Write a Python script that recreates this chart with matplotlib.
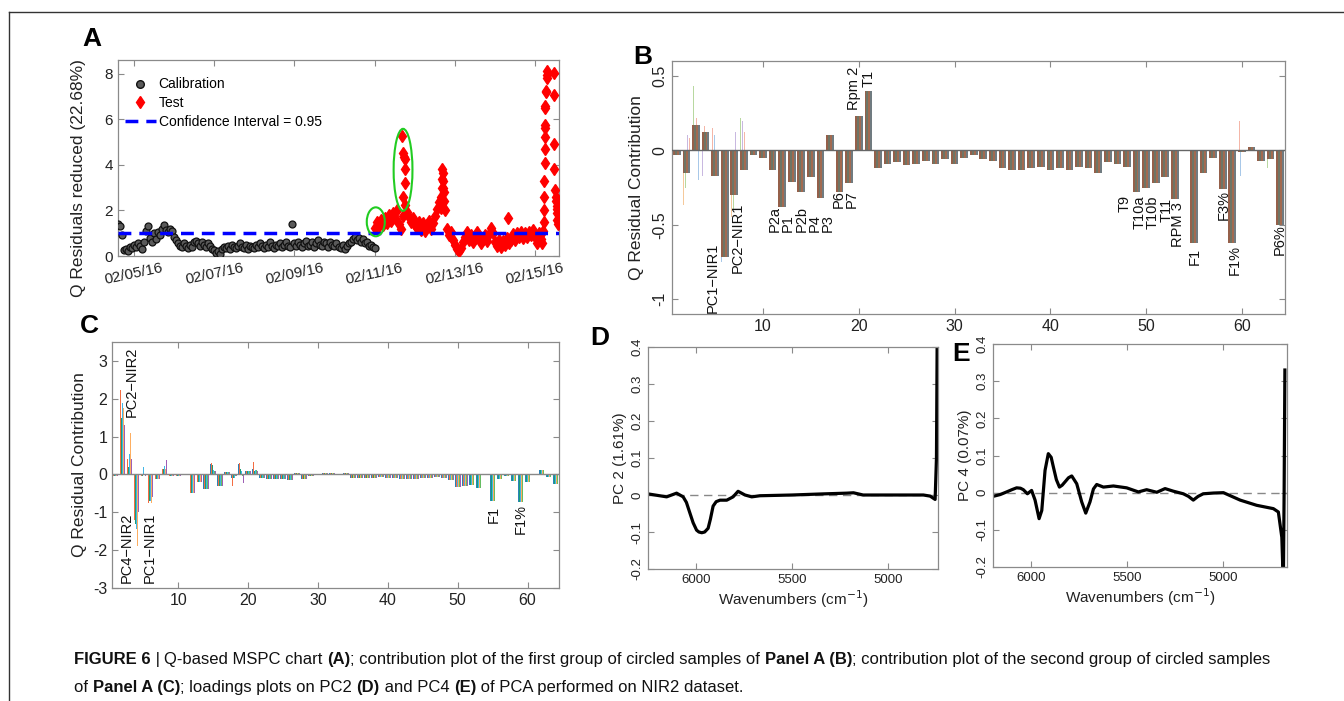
import numpy as np
import matplotlib.pyplot as plt
from matplotlib.patches import Ellipse
from matplotlib.lines import Line2D
from matplotlib.text import Annotation

plt.rcParams['font.family'] = ['Liberation Sans', 'DejaVu Sans']
plt.rcParams['axes.unicode_minus'] = False

# ---------------- Panel A: Q residuals over time (days of Feb 2016)
calib_vals = [
    1.40, 1.30, 0.90, 0.25, 0.30, 0.20, 0.40, 0.35, 0.50, 0.40,
    0.55, 0.45, 0.30, 0.60, 1.10, 1.30, 0.80, 0.60, 1.00, 0.75,
    1.05, 0.90, 1.20, 1.35, 1.15, 1.05, 1.20, 1.10, 0.85, 0.70,
    0.55, 0.45, 0.40, 0.55, 0.45, 0.35, 0.50, 0.40, 0.60, 0.65,
    0.55, 0.45, 0.60, 0.50, 0.40, 0.55, 0.45, 0.30, 0.25, 0.15,
    0.20, 0.10, 0.30, 0.40, 0.35, 0.45, 0.30, 0.50, 0.40, 0.35,
    0.45, 0.55, 0.40, 0.35, 0.50, 0.30, 0.45, 0.40, 0.35, 0.50,
    0.40, 0.55, 0.45, 0.35, 0.50, 0.40, 0.60, 0.45, 0.35, 0.50,
    0.45, 0.55, 0.40, 0.50, 0.60, 0.45, 0.40, 1.40, 0.55, 0.45,
    0.60, 0.50, 0.40, 0.55, 0.65, 0.45, 0.50, 0.60, 0.40, 0.55,
    0.70, 0.50, 0.45, 0.60, 0.55, 0.40, 0.60, 0.50, 0.45, 0.55,
    0.40, 0.35, 0.50, 0.30, 0.45, 0.55, 0.60, 0.75, 0.85, 0.70,
    0.80, 0.60, 0.75, 0.55, 0.60, 0.45, 0.50, 0.40, 0.35]
calib_start, calib_step = 4.60, 0.05   # samples every ~1.2 h
calib_days = calib_start + calib_step * np.arange(len(calib_vals))

test_vals = [
    1.25, 1.50, 1.30, 1.60, 1.35, 1.65, 1.45, 1.80, 1.55, 1.90,
    1.65, 2.00, 1.40, 1.20, 1.75, 2.25, 1.95, 1.70, 1.50, 1.65,
    1.35, 1.25, 1.50, 1.15, 1.45, 1.10, 1.35, 1.55, 1.20, 1.45,
    1.75, 2.05, 2.35, 2.10, 3.00, 2.00, 1.20, 0.90, 1.05, 0.70,
    0.50, 0.30, 0.20, 0.35, 0.60, 0.85, 1.05, 0.70, 0.90, 0.60,
    0.80, 1.05, 0.80, 0.55, 0.75, 0.90, 0.65, 0.95, 1.25, 1.00,
    0.60, 0.45, 0.70, 0.40, 0.65, 0.50, 0.80, 0.55, 0.70, 0.95,
    0.70, 1.00, 0.85, 1.05, 0.80, 1.00, 0.85, 1.05, 0.90, 1.15,
    0.85, 0.55, 1.00, 0.75]
test_start, test_step = 11.00, 0.05
test_days = test_start + test_step * np.arange(len(test_vals))

# excursions of the test samples
spike_days = [11.69, 11.71, 11.74, 11.76, 11.76, 11.75, 11.70,
              12.66, 12.67, 12.68, 12.69, 12.70, 12.71, 12.72, 12.73,
              14.34,
              15.18, 15.20, 15.22, 15.22, 15.23, 15.23, 15.24, 15.24, 15.25,
              15.25, 15.25, 15.26, 15.26, 15.28, 15.28, 15.29, 15.29, 15.30,
              15.48, 15.48, 15.47, 15.48, 15.50, 15.52, 15.53, 15.54, 15.55,
              15.56, 15.57, 15.56]
spike_vals = [5.25, 4.50, 4.35, 4.25, 3.80, 3.20, 2.60,
              2.60, 3.00, 3.40, 3.80, 3.65, 3.30, 2.80, 2.40,
              1.67,
              0.55, 1.10, 1.50, 2.00, 2.60, 3.30, 4.10, 4.70, 5.20,
              5.60, 5.75, 6.50, 6.60, 7.20, 7.25, 7.80, 8.10, 7.95,
              8.05, 7.05, 4.90, 3.80, 2.90, 2.60, 2.40, 2.20, 1.90,
              1.60, 1.40, 2.05]
conf_limit = 1.0
date_ticks = [5, 7, 9, 11, 13, 15]
date_labels = ['02/05/16', '02/07/16', '02/09/16', '02/11/16', '02/13/16', '02/15/16']
# circled sample groups: (centre day, centre value, width, height)
circles = [(11.03, 1.50, 0.45, 1.27), (11.71, 3.78, 0.47, 3.60)]

# ---------------- Panel B: contributions, first circled group
b_main = [
    -0.03, -0.15, 0.17, 0.12, -0.17, -0.72, -0.30, -0.13, -0.03, -0.05,
    -0.13, -0.38, -0.21, -0.28, -0.18, -0.32, 0.10, -0.28, -0.22, 0.23,
    0.40, -0.12, -0.09, -0.08, -0.10, -0.09, -0.07, -0.09, -0.06, -0.09,
    -0.05, -0.03, -0.06, -0.07, -0.12, -0.13, -0.13, -0.12, -0.11, -0.13,
    -0.12, -0.13, -0.11, -0.12, -0.15, -0.08, -0.09, -0.11, -0.28, -0.25,
    -0.22, -0.18, -0.33, 0.00, -0.62, -0.15, -0.05, -0.26, -0.62, -0.01,
    0.02, -0.07, -0.06, -0.50]
b_extra = {2: [-0.37, -0.25, 0.10, 0.08], 3: [0.43, 0.30, 0.22, -0.20],
           4: [-0.17, 0.16], 5: [0.15, 0.10], 6: [-0.75],
           7: [-0.45, -0.40, 0.12], 8: [0.22, 0.20, 0.12],
           60: [0.20, -0.17], 63: [-0.12]}
# (label, x centre, y of text bottom)
b_labels = [('PC1\u2212NIR1', 4.8, -1.09), ('PC2\u2212NIR1', 7.36, -0.826),
            ('P2a', 11.2, -0.548), ('P1', 12.6, -0.548), ('P2b', 14.0, -0.548),
            ('P4', 15.4, -0.548), ('P3', 16.8, -0.548), ('P6', 17.9, -0.39),
            ('P7', 19.3, -0.39), ('Rpm 2', 19.5, 0.268), ('T1', 21.05, 0.425),
            ('T9', 47.75, -0.414), ('T10a', 49.3, -0.526), ('T10b', 50.7, -0.526),
            ('T11', 52.1, -0.48), ('RPM 3', 53.3, -0.649), ('F1', 55.1, -0.772),
            ('F3%', 58.06, -0.47), ('F1%', 59.3, -0.84), ('P6%', 64.0, -0.705)]

# ---------------- Panel C: contributions, second circled group
c_main = [
    -0.04, 1.60, 0.40, -1.30, -0.05, -0.70, -0.12, 0.20, -0.03, -0.03,
    -0.02, -0.48, -0.20, -0.38, 0.25, -0.30, 0.06, -0.10, 0.20, 0.10,
    0.15, -0.10, -0.12, -0.13, -0.12, -0.15, 0.05, -0.12, -0.03, -0.02,
    0.05, 0.03, 0.02, 0.04, -0.10, -0.10, -0.09, -0.10, -0.08, -0.09,
    -0.10, -0.12, -0.11, -0.12, -0.10, -0.09, -0.08, -0.10, -0.15, -0.32,
    -0.30, -0.28, -0.35, 0.00, -0.70, -0.12, -0.05, -0.18, -0.72, -0.20,
    0.00, 0.12, -0.08, -0.25]
c_samples = {2: [1.20, 2.22, 1.50, 1.90, 1.75, 1.30, 1.30],
             3: [0.42, 0.40, 0.20, 0.55, 1.10, 0.20, 0.40],
             4: [-1.00, -1.20, -1.30, -1.45, -1.88, -0.65, -1.00],
             5: [0.20, -0.05, -0.05, 0.20, -0.02, -0.48, -0.05],
             6: [-0.68, -0.75, -0.70, -0.70, -0.75, -0.60, -0.60],
             8: [0.22, 0.15, 0.15, 0.22, 0.15, 0.10, 0.38],
             15: [0.28, 0.30, 0.25, 0.12, 0.30, 0.10, 0.10],
             18: [-0.10, -0.30, -0.10, -0.10, -0.10, -0.05, -0.05],
             19: [0.28, 0.30, 0.15, 0.10, 0.28, -0.05, -0.22],
             21: [0.15, 0.32, 0.10, 0.12, 0.10, 0.12, 0.10]}
c_labels = [('PC2\u2212NIR2', 3.32, 1.52), ('PC4\u2212NIR2', 2.6, -2.88),
            ('PC1\u2212NIR1', 5.86, -2.88), ('F1', 55.1, -1.29), ('F1%', 59.07, -1.56)]

# ---------------- Panels D, E: loadings
d_wn = [6250, 6153, 6101, 6067, 6050, 6031, 6015, 5997, 5985, 5970, 5955, 5937,
        5925, 5911, 5895, 5875, 5840, 5807, 5781, 5745, 5710, 5667, 5500, 5338,
        5215, 5180, 5130, 4950, 4816, 4781, 4755, 4748, 4744]
d_pc2 = [0.003, -0.005, 0.005, -0.005, -0.02, -0.05, -0.075, -0.095, -0.10, -0.102,
         -0.10, -0.09, -0.065, -0.03, -0.018, -0.014, -0.014, -0.005, 0.010, 0.0,
         -0.005, -0.002, 0.0, 0.003, 0.005, 0.006, 0.0, 0.0, 0.0, -0.003, -0.012,
         0.10, 0.45]
e_wn = [6198, 6160, 6127, 6100, 6075, 6055, 6040, 6019, 5997, 5979, 5958, 5944,
        5927, 5910, 5895, 5884, 5868, 5852, 5838, 5823, 5805, 5788, 5762, 5736,
        5715, 5693, 5675, 5658, 5623, 5571, 5502, 5441, 5398, 5345, 5302, 5259,
        5207, 5180, 5155, 5130, 5103, 5050, 4998, 4911, 4825, 4738, 4712, 4694,
        4686, 4682, 4678]
e_pc4 = [-0.01, -0.005, 0.002, 0.008, 0.013, 0.012, 0.008, -0.003, 0.006, -0.02,
         -0.07, -0.048, 0.06, 0.105, 0.095, 0.07, 0.035, 0.015, 0.02, 0.029,
         0.04, 0.045, 0.024, -0.025, -0.055, -0.025, 0.01, 0.022, 0.015, 0.018,
         0.013, 0.002, 0.008, 0.001, 0.011, 0.004, -0.003, -0.01, -0.02, -0.01,
         -0.003, -0.001, 0.0, -0.02, -0.034, -0.043, -0.052, -0.12, -0.25, 0.0, 0.33]

W, H = 1344, 701
fig = plt.figure(figsize=(W / 100, H / 100), dpi=100)


def px_axes(l, t, r, b):
    return fig.add_axes([l / W, 1 - b / H, (r - l) / W, (b - t) / H])


def matlab_style(ax, size):
    for s in ax.spines.values():
        s.set_color('#8a8a8a')
        s.set_linewidth(0.9)
    ax.tick_params(direction='in', top=True, right=True, length=4,
                   color='#8a8a8a', labelcolor='#222222', labelsize=size)


# ---- A
axA = px_axes(118, 60, 559, 256)
axA.plot(calib_days, calib_vals, 'o', ls='none', mfc='#5a5a5a', mec='#111111', ms=5, mew=0.9, zorder=3)
axA.plot(test_days, test_vals, 'd', ls='none', color='#ff0000', ms=6, zorder=3)
axA.plot(spike_days, spike_vals, 'd', ls='none', color='#ff0000', ms=6, zorder=3)
axA.axhline(conf_limit, color='#0000ff', lw=2.5, ls=(0, (3.7, 2.3)), zorder=4)
for cx, cy, w, h in circles:
    axA.add_patch(Ellipse((cx, cy), w, h, fill=False, edgecolor='#22cc22', lw=1.5, zorder=5))
axA.set_xlim(4.6, 15.6)
axA.set_ylim(0, 8.6)
axA.set_xticks(date_ticks)
axA.set_xticklabels(date_labels, rotation=12)
axA.set_yticks([0, 2, 4, 6, 8])
matlab_style(axA, 11)
axA.set_ylabel('Q Residuals reduced (22.68%)', fontsize=12.5, color='#222222')
axA.yaxis.set_label_coords(-0.072, 0.40)
handles = [Line2D([], [], marker='o', ls='none', mfc='#5a5a5a', mec='#111111', ms=5.5),
           Line2D([], [], marker='d', ls='none', color='#ff0000', ms=6.5),
           Line2D([], [], color='#0000ff', lw=2.5, ls=(0, (3.7, 2.3)))]
axA.legend(handles, ['Calibration', 'Test', 'Confidence Interval = 0.95'], loc='upper left',
           bbox_to_anchor=(-0.012, 0.975), frameon=False, fontsize=10, handlelength=2.2,
           labelspacing=0.35, handletextpad=0.2)

# ---- B
axB = px_axes(672, 61, 1285, 314)
b_vars = np.arange(1, len(b_main) + 1)
b_colors = ['#95604a', '#6e7565', '#a26a50', '#707b80']
light = ['#f4b6a8', '#a8c8e8', '#f5c99b', '#b8d8a0', '#c8b8e0']
extra_off = [-0.3, -0.1, 0.1, 0.3]
for var, vals in b_extra.items():
    for j, v in enumerate(vals):
        axB.bar(var + extra_off[j], v, width=0.1, color=light[(var + j) % len(light)], lw=0)
nb = len(b_colors)
for i in range(nb):
    axB.bar(b_vars + (i - (nb - 1) / 2) * 0.2, b_main, width=0.2, color=b_colors[i], lw=0)
axB.axhline(0, color='#666666', lw=1, zorder=3)
for txt, x, y in b_labels:
    axB.text(x, y, txt, rotation=90, ha='center', va='bottom', fontsize=10.5, color='#111111')
axB.set_xlim(0.5, 64.5)
axB.set_ylim(-1.1, 0.6)
axB.set_xticks([10, 20, 30, 40, 50, 60])
axB.set_yticks([-1, -0.5, 0, 0.5])
axB.set_yticklabels(['-1', '-0.5', '0', '0.5'], rotation=90, va='center')
matlab_style(axB, 11.5)
axB.set_ylabel('Q Residual Contribution', fontsize=12.5, color='#222222', labelpad=6)

# ---- C
axC = px_axes(112, 342, 559, 588)
c_vars = np.arange(1, len(c_main) + 1)
c_colors = ['#2b83ba', '#f46d43', '#1b9e77', '#41b6e6', '#fdae61', '#66bd63', '#9e5fb5']
nc = len(c_colors)
for i in range(nc):
    heights = [c_samples[v][i] if v in c_samples else c_main[v - 1] for v in c_vars]
    axC.bar(c_vars + (i - (nc - 1) / 2) * (0.8 / nc), heights, width=0.8 / nc, color=c_colors[i], lw=0)
axC.axhline(0, color='#888888', lw=1, zorder=3)
for txt, x, y in c_labels:
    axC.text(x, y, txt, rotation=90, ha='center', va='bottom', fontsize=10.5, color='#111111')
axC.set_xlim(0.5, 64.5)
axC.set_ylim(-3, 3.5)
axC.set_xticks([10, 20, 30, 40, 50, 60])
axC.set_yticks([-3, -2, -1, 0, 1, 2, 3])
matlab_style(axC, 11.5)
axC.set_ylabel('Q Residual Contribution', fontsize=12.5, color='#222222', labelpad=4)

# ---- D, E
for (l, t, r, b), wn, vals, lims, lab in [((648, 347, 938, 569), d_wn, d_pc2, (6250, 4740), 'PC 2 (1.61%)'),
                                          ((993, 344, 1287, 567), e_wn, e_pc4, (6198, 4667), 'PC 4 (0.07%)')]:
    ax = px_axes(l, t, r, b)
    ax.axhline(0, color='#888888', lw=1, ls=(0, (6, 4)))
    ax.plot(wn, vals, color='black', lw=2.3, solid_joinstyle='round')
    ax.set_xlim(*lims)
    ax.set_ylim(-0.2, 0.4)
    ax.set_xticks([6000, 5500, 5000])
    ax.set_yticks([-0.2, -0.1, 0, 0.1, 0.2, 0.3, 0.4])
    ax.set_yticklabels(['-0.2', '-0.1', '0', '0.1', '0.2', '0.3', '0.4'], rotation=90, va='center')
    matlab_style(ax, 9.5)
    ax.set_ylabel(lab, fontsize=11, color='#222222', labelpad=3)
    ax.set_xlabel('Wavenumbers (cm$^{-1}$)', fontsize=11, color='#222222', labelpad=2)

# panel letters
for letter, x, y in [('A', 92, 39), ('B', 643, 57), ('C', 89, 326), ('D', 600, 338), ('E', 961, 354)]:
    fig.text(x / W, 1 - y / H, letter, fontsize=19, fontweight='bold', ha='center', va='center')

# frame lines
fig.add_artist(Line2D([9 / W, 1], [1 - 12 / H, 1 - 12 / H], color='#333333', lw=1))
fig.add_artist(Line2D([9 / W, 9 / W], [0, 1 - 12 / H], color='#333333', lw=1))

# caption
cap1 = [('FIGURE 6', True), (' | ', False), ('Q-based MSPC chart ', False), ('(A)', True),
        ('; contribution plot of the first group of circled samples of ', False),
        ('Panel A (B)', True), ('; contribution plot of the second group of circled samples', False)]
cap2 = [('of ', False), ('Panel A (C)', True), ('; loadings plots on PC2 ', False), ('(D)', True),
        (' and PC4 ', False), ('(E)', True), (' of PCA performed on NIR2 dataset.', False)]
for parts, y in [(cap1, 667), (cap2, 695)]:
    prev = None
    for txt, bold in parts:
        kw = dict(fontsize=12, fontweight='bold' if bold else 'normal', color='#111111', va='bottom', ha='left')
        if prev is None:
            prev = fig.text(74 / W, 1 - y / H, txt, **kw)
        else:
            prev = fig.add_artist(Annotation(txt, xy=(1, 0), xycoords=prev, **kw))

fig.savefig('out.png', dpi=100)
